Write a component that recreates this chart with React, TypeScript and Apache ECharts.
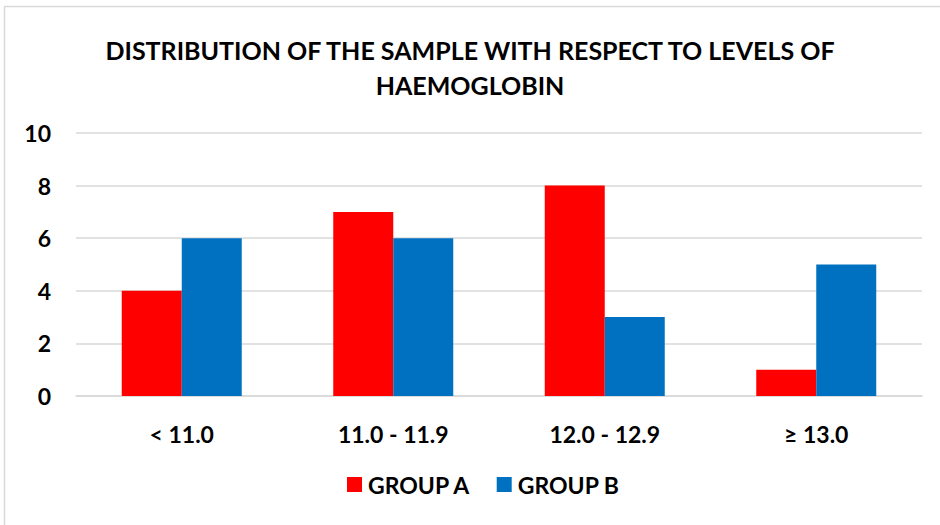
import React, { useEffect, useRef } from "react";
import * as echarts from "echarts";

const titleText = "DISTRIBUTION OF THE SAMPLE WITH RESPECT TO LEVELS OF\nHAEMOGLOBIN";
const categories = ["< 11.0", "11.0 - 11.9", "12.0 - 12.9", "≥ 13.0"];
const seriesNames = ["GROUP A", "GROUP B"];
const groupA = [4, 7, 8, 1];
const groupB = [6, 6, 3, 5];
const yTicks = { min: 0, max: 10, interval: 2 };
const colors = ["#FF0000", "#0070C0"];

const FONT = "Lato, 'Open Sans', sans-serif";

export default function App() {
  const ref = useRef<HTMLDivElement>(null);
  useEffect(() => {
    if (!ref.current) return;
    const chart = echarts.init(ref.current, null, { renderer: "svg" });
    chart.setOption({
      animation: false,
      backgroundColor: "#ffffff",
      title: {
        text: titleText,
        left: "center",
        top: 27,
        textStyle: {
          fontFamily: FONT,
          fontWeight: "bold",
          fontSize: 25,
          color: "#000000",
          lineHeight: 35,
        },
      },
      graphic: [
        { type: "line", shape: { x1: 4.5, y1: 7, x2: 4.5, y2: 525 }, style: { stroke: "#d9d9d9", lineWidth: 1.5 } },
        { type: "line", shape: { x1: 4, y1: 6.5, x2: 940, y2: 6.5 }, style: { stroke: "#d9d9d9", lineWidth: 1.5 } },
      ],
      legend: {
        bottom: 24,
        left: 342,
        itemWidth: 15,
        itemHeight: 15,
        itemGap: 26,
        icon: "rect",
        textStyle: { fontFamily: FONT, fontWeight: "bold", fontSize: 23, color: "#000000", padding: [0, 0, 0, 1] },
        data: seriesNames,
      },
      grid: { left: 76, right: 18, top: 133, bottom: 129, containLabel: false },
      xAxis: {
        type: "category",
        data: categories,
        axisLine: { show: true, lineStyle: { color: "#d9d9d9", width: 1.5 } },
        axisTick: { show: false },
        axisLabel: { margin: 26, fontFamily: FONT, fontWeight: "bold", fontSize: 23, color: "#000000" },
      },
      yAxis: {
        type: "value",
        min: yTicks.min,
        max: yTicks.max,
        interval: yTicks.interval,
        axisLine: { show: false },
        axisTick: { show: false },
        splitLine: { lineStyle: { color: "#d9d9d9", width: 1.5 } },
        axisLabel: { margin: 25, fontFamily: FONT, fontWeight: "bold", fontSize: 23, color: "#000000" },
      },
      series: [
        {
          name: seriesNames[0],
          type: "bar",
          data: groupA,
          itemStyle: { color: colors[0] },
          barWidth: 60,
          barGap: "0%",
        },
        {
          name: seriesNames[1],
          type: "bar",
          data: groupB,
          itemStyle: { color: colors[1] },
          barWidth: 60,
          barGap: "0%",
        },
      ],
    });
    return () => chart.dispose();
  }, []);
  return <div ref={ref} style={{ width: 940, height: 525, position: "absolute", left: 0, top: 0 }} />;
}
